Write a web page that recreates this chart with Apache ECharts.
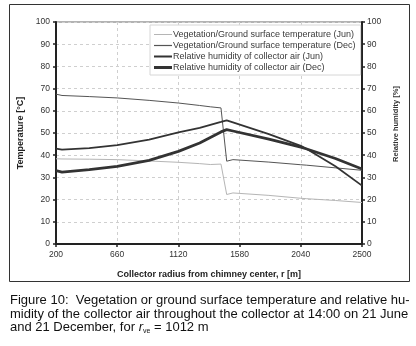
<!DOCTYPE html>
<html>
<head>
<meta charset="utf-8">
<script src="https://cdn.jsdelivr.net/npm/echarts@6/dist/echarts.min.js"></script>
<style>
html,body{margin:0;padding:0;background:#fff;}
#c{width:416px;height:346px;}
</style>
</head>
<body>
<div id="c"></div>
<script>
// Collector radius [m]
var radius = [200, 245, 450, 660, 900, 1120, 1280, 1360, 1440, 1483, 1530, 1800, 2040, 2085, 2300, 2500];
// Vegetation/Ground surface temperature [°C]
var tempJun = [38.4, 38.3, 38.2, 38.0, 37.4, 36.8, 36.2, 35.8, 36.0, 22.3, 23.0, 21.9, 20.6, 20.4, 19.6, 18.7];
var tempDec = [67.5, 66.9, 66.4, 65.8, 64.7, 63.5, 62.4, 61.8, 61.3, 37.3, 38.0, 36.9, 35.7, 35.5, 34.3, 33.2];
// Relative humidity of collector air [%]
var rhJun = [43.0, 42.5, 43.2, 44.5, 47.0, 50.3, 52.3, 53.7, 55.0, 55.7, 54.8, 49.5, 44.2, 42.8, 35.0, 26.3];
var rhDec = [33.0, 32.4, 33.5, 35.0, 37.7, 41.7, 45.5, 48.0, 50.5, 51.5, 50.9, 47.2, 43.6, 42.8, 38.5, 33.8];

var seriesNames = [
  'Vegetation/Ground surface temperature (Jun)',
  'Vegetation/Ground surface temperature (Dec)',
  'Relative humidity of collector air (Jun)',
  'Relative humidity of collector air (Dec)'
];
var xTicks = [200, 660, 1120, 1580, 2040, 2500];

function pairs(ys) { return radius.map(function (r, i) { return [r, ys[i]]; }); }

var FONT = 'Arial, "Liberation Sans", sans-serif';
var chart = echarts.init(document.getElementById('c'), null, { renderer: 'canvas' });

var gridLine = { show: true, lineStyle: { color: '#cfcfcf', type: [3, 3], width: 1 } };
var plain = function (v) { return String(v); };

chart.setOption({
  animation: false,
  backgroundColor: '#fff',
  textStyle: { fontFamily: FONT },
  grid: { left: 56, right: 54, top: 22, bottom: 102, show: true, borderColor: '#666', borderWidth: 1, backgroundColor: 'transparent' },
  legend: {
    orient: 'vertical',
    left: 150, top: 25,
    width: 207,
    padding: [5, 5, 3, 4],
    itemWidth: 18, itemHeight: 10, itemGap: 2,
    symbolKeepAspect: true,
    borderColor: '#d6d6d6', borderWidth: 1,
    backgroundColor: '#fff',
    textStyle: { fontSize: 9, color: '#3a3a3a', fontFamily: FONT, padding: [0, 0, 0, -4] },
    data: [
      { name: seriesNames[0], icon: 'path://M0,0H18V1H0Z' },
      { name: seriesNames[1], icon: 'path://M0,0H18V1.2H0Z' },
      { name: seriesNames[2], icon: 'path://M0,0H18V2H0Z' },
      { name: seriesNames[3], icon: 'path://M0,0H18V3H0Z' }
    ]
  },
  xAxis: {
    type: 'value', min: 200, max: 2500, interval: 460,
    name: 'Collector radius from chimney center, r [m]',
    nameLocation: 'middle', nameGap: 26,
    nameTextStyle: { fontSize: 9, fontWeight: 'bold', color: '#222', fontFamily: FONT },
    axisLine: { show: true, onZero: false, lineStyle: { color: '#222', width: 2 } },
    axisTick: { show: true, inside: false, length: 3, lineStyle: { color: '#222', width: 1.5 } },
    axisLabel: { fontSize: 8.5, color: '#333', margin: 6, fontFamily: FONT, formatter: plain },
    splitLine: gridLine
  },
  yAxis: [{
    type: 'value', min: 0, max: 100, interval: 10,
    name: 'Temperature [°C]', nameLocation: 'middle', nameGap: 30, nameRotate: 90,
    nameTextStyle: { fontSize: 9, fontWeight: 'bold', color: '#222', fontFamily: FONT },
    axisLine: { show: true, lineStyle: { color: '#222', width: 2 } },
    axisTick: { show: true, inside: false, length: 3, lineStyle: { color: '#222', width: 1.5 } },
    axisLabel: { fontSize: 8.5, color: '#333', margin: 6, fontFamily: FONT, formatter: plain },
    splitLine: gridLine
  }, {
    type: 'value', min: 0, max: 100, interval: 10, position: 'right',
    name: 'Relative humidity [%]', nameLocation: 'middle', nameGap: 28, nameRotate: 90,
    nameTextStyle: { fontSize: 7.5, fontWeight: 'bold', color: '#333', fontFamily: FONT, padding: [0, 0, 0, 18] },
    axisLine: { show: true, lineStyle: { color: '#222', width: 2 } },
    axisTick: { show: true, inside: false, length: 3, lineStyle: { color: '#222', width: 1.5 } },
    axisLabel: { fontSize: 8.5, color: '#333', margin: 5, fontFamily: FONT, formatter: plain },
    splitLine: { show: false }
  }],
  series: [{
    name: seriesNames[0], type: 'line', yAxisIndex: 0, symbol: 'none',
    lineStyle: { color: '#b5b5b5', width: 1 }, itemStyle: { color: '#b5b5b5' },
    data: pairs(tempJun), z: 2
  }, {
    name: seriesNames[1], type: 'line', yAxisIndex: 0, symbol: 'none',
    lineStyle: { color: '#555', width: 1 }, itemStyle: { color: '#555' },
    data: pairs(tempDec), z: 3
  }, {
    name: seriesNames[2], type: 'line', yAxisIndex: 1, symbol: 'none',
    lineStyle: { color: '#333', width: 1.8 }, itemStyle: { color: '#333' },
    data: pairs(rhJun), z: 4
  }, {
    name: seriesNames[3], type: 'line', yAxisIndex: 1, symbol: 'none',
    lineStyle: { color: '#333', width: 2.8 }, itemStyle: { color: '#333' },
    data: pairs(rhDec), z: 5
  }],
  graphic: [{
    type: 'rect', silent: true, z: -1,
    shape: { x: 9.5, y: 4.5, width: 400, height: 277 },
    style: { fill: 'none', stroke: '#333', lineWidth: 1 }
  }, {
    type: 'text', left: 10, top: 294,
    style: {
      text: 'Figure 10:  Vegetation or ground surface temperature and relative hu-\nmidity of the collector air throughout the collector at 14:00 on 21 June\nand 21 December, for {i|r}{s|ve} = 1012 m',
      font: '13px ' + FONT, fill: '#111', lineHeight: 13.5,
      rich: {
        i: { fontStyle: 'italic', fontSize: 13, fontFamily: FONT, fill: '#111' },
        s: { fontSize: 7, fontFamily: FONT, fill: '#111', verticalAlign: 'bottom', padding: [6, 0, 0, 0] }
      }
    }
  }]
});
</script>
</body>
</html>
